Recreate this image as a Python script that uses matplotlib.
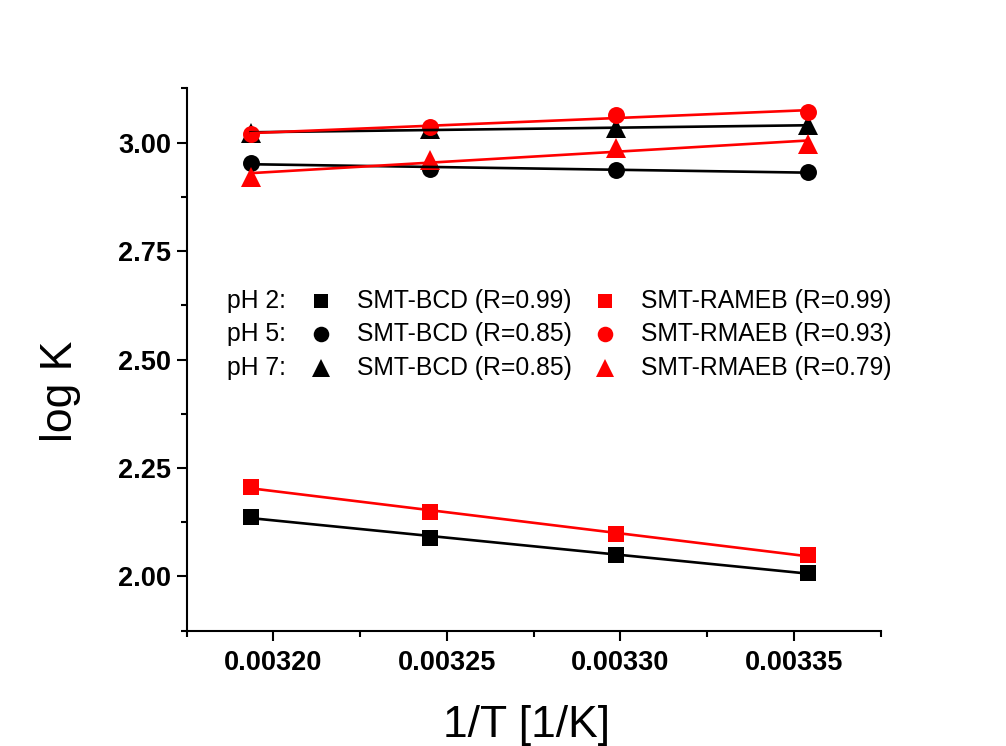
import numpy as np
import matplotlib
matplotlib.use("Agg")
import matplotlib.pyplot as plt
from matplotlib.ticker import MultipleLocator, FormatStrFormatter
from matplotlib.lines import Line2D

plt.rcParams['font.family'] = ['Liberation Sans', 'DejaVu Sans']

# reciprocal temperature, 1/K (40, 35, 30, 25 °C)
inv_T = [0.0031934, 0.0032452, 0.0032987, 0.0033540]

# log K values, beta-cyclodextrin complexes
bcd_ph2 = [2.138, 2.089, 2.049, 2.009]
bcd_ph5 = [2.953, 2.940, 2.938, 2.932]
bcd_ph7 = [3.023, 3.031, 3.034, 3.040]

# log K values, RAMEB complexes
rameb_ph2 = [2.207, 2.148, 2.099, 2.049]
rameb_ph5 = [3.021, 3.037, 3.064, 3.071]
rameb_ph7 = [2.922, 2.961, 2.988, 2.997]

ph_labels = ["pH 2:", "pH 5:", "pH 7:"]
bcd_labels = ["SMT-BCD (R=0.99)", "SMT-BCD (R=0.85)", "SMT-BCD (R=0.85)"]
rameb_labels = ["SMT-RAMEB (R=0.99)", "SMT-RMAEB (R=0.93)", "SMT-RMAEB (R=0.79)"]

markers = ["s", "o", "^"]
msizes = [11.3, 12.2, 13.8]

fig = plt.figure(figsize=(10.06, 7.46), dpi=100)
ax = fig.add_axes([0.1856, 0.1546, 0.6898, 0.7268])

x = np.array(inv_T)
groups = [
    ("black", [bcd_ph2, bcd_ph5, bcd_ph7]),
    ("#ff0000", [rameb_ph2, rameb_ph5, rameb_ph7]),
]

# data points
for color, series in groups:
    for y, m, ms in zip(series, markers, msizes):
        ax.plot(x, y, linestyle="none", marker=m, markersize=ms,
                color=color, markeredgewidth=0, zorder=3)

# linear van 't Hoff fits
xf = np.array([x.min(), x.max()])
for color, series in groups:
    for y in series:
        k, b = np.polyfit(x, np.array(y), 1)
        ax.plot(xf, k * xf + b, color=color, linewidth=1.9, zorder=4)

ax.set_xlim(0.003175, 0.003375)
ax.set_ylim(1.875, 3.125)

ax.xaxis.set_major_locator(MultipleLocator(0.00005))
ax.xaxis.set_minor_locator(MultipleLocator(0.000025))
ax.xaxis.set_major_formatter(FormatStrFormatter("%.5f"))
ax.yaxis.set_major_locator(MultipleLocator(0.25))
ax.yaxis.set_minor_locator(MultipleLocator(0.125))
ax.yaxis.set_major_formatter(FormatStrFormatter("%.2f"))

for side in ("top", "right"):
    ax.spines[side].set_visible(False)
for side in ("left", "bottom"):
    ax.spines[side].set_linewidth(1.5)

ax.tick_params(which="major", direction="out", length=7, width=1.5,
               labelsize=19.5)
ax.tick_params(axis="x", which="major", pad=7)
ax.tick_params(axis="y", which="major", pad=4)
ax.tick_params(which="minor", direction="out", length=4, width=1.5)
for lab in ax.get_xticklabels() + ax.get_yticklabels():
    lab.set_fontweight("bold")

ax.set_xlabel("1/T [1/K]", fontsize=32, va="top")
ax.xaxis.set_label_coords(0.4903, -0.137)
ax.set_ylabel("log K", fontsize=32, va="center")
ax.yaxis.set_label_coords(-0.1826, 0.442)

# legend block: pH label, BCD marker + text, RAMEB marker + text
row_y = [0.608, 0.547, 0.4845]
for i, yy in enumerate(row_y):
    ax.text(0.058, yy, ph_labels[i], transform=ax.transAxes,
            fontsize=17.8, va="center", ha="left")
    ax.add_line(Line2D([0.1935], [yy], transform=ax.transAxes,
                       marker=markers[i], markersize=msizes[i] - 1,
                       color="black", markeredgewidth=0, linestyle="none"))
    ax.text(0.2454, yy, bcd_labels[i], transform=ax.transAxes,
            fontsize=17.8, va="center", ha="left")
    ax.add_line(Line2D([0.6027], [yy], transform=ax.transAxes,
                       marker=markers[i], markersize=msizes[i] - 1,
                       color="#ff0000", markeredgewidth=0, linestyle="none"))
    ax.text(0.6546, yy, rameb_labels[i], transform=ax.transAxes,
            fontsize=17.8, va="center", ha="left")

fig.savefig("out.png", dpi=100, facecolor="white")
